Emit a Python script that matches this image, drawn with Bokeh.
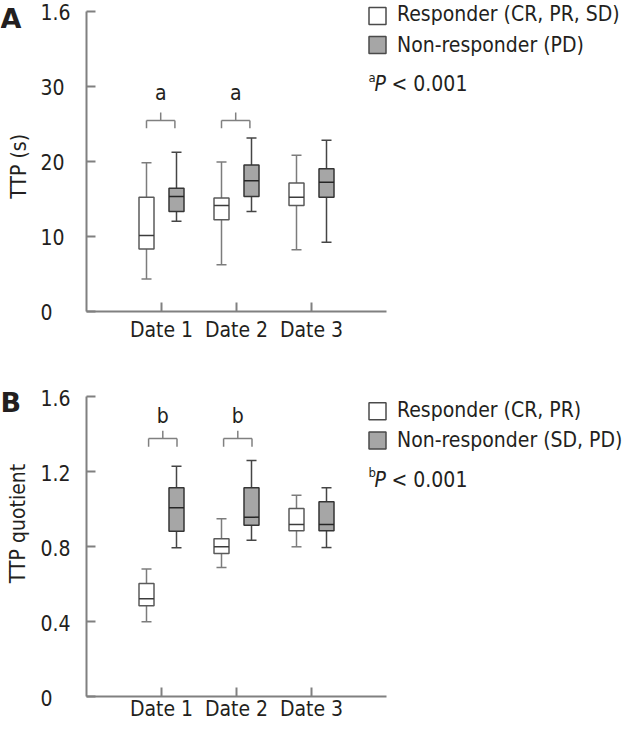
import math
from bokeh.plotting import figure
from bokeh.models import (ColumnDataSource, Label, LabelSet,
                          FixedTicker, Range1d, CustomJSTickFormatter)
from bokeh.layouts import column
from bokeh.core.properties import value
from bokeh.embed import file_html
from bokeh.resources import INLINE

FONT = "DejaVu Sans Condensed, DejaVu Sans"
TXT = "#231f20"

# ---------------- data ----------------
dates = ["Date 1", "Date 2", "Date 3"]
date_pos = [1, 2, 3]

# Panel A: TTP (s)
a_resp_low = [4.3, 6.2, 8.2]
a_resp_q1 = [8.3, 12.2, 14.1]
a_resp_med = [10.1, 14.1, 15.2]
a_resp_q3 = [15.2, 15.1, 17.1]
a_resp_high = [19.8, 19.9, 20.8]
a_non_low = [12.0, 13.3, 9.2]
a_non_q1 = [13.3, 15.3, 15.2]
a_non_med = [15.3, 17.4, 17.2]
a_non_q3 = [16.4, 19.5, 19.0]
a_non_high = [21.2, 23.1, 22.8]
a_yticks = [0, 10, 20, 30, 40]
a_ytick_labels = ["0", "10", "20", "30", "1.6"]
a_sig_pos = [1, 2]
a_sig_text = ["a", "a"]
a_legend = ["Responder (CR, PR, SD)", "Non-responder (PD)"]

# Panel B: TTP quotient
b_resp_low = [0.40, 0.69, 0.80]
b_resp_q1 = [0.485, 0.764, 0.885]
b_resp_med = [0.523, 0.800, 0.919]
b_resp_q3 = [0.604, 0.843, 1.004]
b_resp_high = [0.681, 0.949, 1.075]
b_non_low = [0.795, 0.835, 0.796]
b_non_q1 = [0.883, 0.915, 0.885]
b_non_med = [1.008, 0.958, 0.919]
b_non_q3 = [1.115, 1.115, 1.040]
b_non_high = [1.230, 1.260, 1.115]
b_yticks = [0, 0.4, 0.8, 1.2, 1.6]
b_ytick_labels = ["0", "0.4", "0.8", "1.2", "1.6"]
b_sig_pos = [1, 2]
b_sig_text = ["b", "b"]
b_legend = ["Responder (CR, PR)", "Non-responder (SD, PD)"]

# ---------------- geometry (canvas pixels) ----------------
W = 622
AX_X = 86.0
PX_PER_CAT = 75.0
OFF = 0.2
BOXW = 0.2
CAP_PX = 10.0


def X(px):
    return (px - AX_X) / PX_PER_CAT


def mid(base, fs):
    # vertical centre of a text line whose baseline sits at pixel row `base`
    return base - 0.346 * fs


def build(letter, ylabel, ymax, yticks, ytick_labels, resp, non, sig_pos, sig_text,
          leg_labels, g):
    H = g["h"]
    y0 = g["y0"]
    pxu = g["pxu"]

    def Y(py):
        return (y0 - py) / pxu

    p = figure(width=W, height=H, x_range=Range1d(X(0), X(W)), y_range=Range1d(Y(H), Y(0)),
               output_backend="svg", toolbar_location=None,
               min_border_left=0, min_border_right=0, min_border_top=0, min_border_bottom=0)
    p.outline_line_color = None
    p.grid.visible = False
    p.background_fill_color = "white"
    p.border_fill_color = "white"

    blank = CustomJSTickFormatter(code="return ''")
    for ax, ticks, bnds in ((p.xaxis[0], date_pos, (0, 4)), (p.yaxis[0], yticks, (0, ymax))):
        ax.fixed_location = 0
        ax.bounds = bnds
        ax.ticker = FixedTicker(ticks=ticks)
        ax.formatter = blank
        ax.major_tick_in = 9
        ax.major_tick_out = 0
        ax.minor_tick_line_color = None
        ax.axis_line_color = "#808080"
        ax.axis_line_width = 2
        ax.major_tick_line_color = "#808080"
        ax.major_tick_line_width = 2
        ax.major_label_standoff = 0

    capw = CAP_PX / PX_PER_CAT
    resp_style = ("white", "#5a5a5a", "#7c7c7c", "#3c3c3c")
    non_style = ("#a6a6a6", "#353535", "#454545", "#262626")
    groups = [
        (resp, [d - OFF for d in date_pos], resp_style),
        (non, [d + OFF for d in date_pos], non_style),
    ]
    for (low, q1, med, q3, high), xs, (fill, edge, wcol, mcol) in groups:
        p.segment(x0=xs, y0=q3, x1=xs, y1=high, line_color=wcol, line_width=1.5)
        p.segment(x0=xs, y0=q1, x1=xs, y1=low, line_color=wcol, line_width=1.5)
        p.segment(x0=[x - capw / 2 for x in xs], y0=high, x1=[x + capw / 2 for x in xs], y1=high,
                  line_color=wcol, line_width=1.5)
        p.segment(x0=[x - capw / 2 for x in xs], y0=low, x1=[x + capw / 2 for x in xs], y1=low,
                  line_color=wcol, line_width=1.5)
        p.vbar(x=xs, width=BOXW, bottom=q1, top=q3, fill_color=fill,
               line_color=edge, line_width=1.5)
        p.segment(x0=[x - BOXW / 2 for x in xs], y0=med, x1=[x + BOXW / 2 for x in xs], y1=med,
                  line_color=mcol, line_width=1.5)

    # significance brackets
    dx = g["br_dx"] / PX_PER_CAT
    half = 14.2 / PX_PER_CAT
    y_bar, y_leg, y_tip = Y(g["br_bar"]), Y(g["br_leg"]), Y(g["br_tip"])
    y_txt = Y(mid(g["br_txt"], 21))
    cx = [c + dx for c in sig_pos]
    bc = "#808080"
    p.segment(x0=[c - half for c in cx], y0=y_bar, x1=[c + half for c in cx], y1=y_bar,
              line_color=bc, line_width=1.5)
    p.segment(x0=[c - half for c in cx], y0=y_bar, x1=[c - half for c in cx], y1=y_leg,
              line_color=bc, line_width=1.5)
    p.segment(x0=[c + half for c in cx], y0=y_bar, x1=[c + half for c in cx], y1=y_leg,
              line_color=bc, line_width=1.5)
    p.segment(x0=cx, y0=y_bar, x1=cx, y1=y_tip, line_color=bc, line_width=1.5)
    p.text(x=cx, y=[y_txt] * len(cx), text=sig_text, text_font=value(FONT),
           text_font_size="21px", text_align="center", text_baseline="middle",
           text_color=TXT)

    # tick labels
    ysrc = ColumnDataSource(dict(x=[X(40)] * len(yticks), y=yticks, t=ytick_labels))
    p.add_layout(LabelSet(x="x", y="y", text="t", source=ysrc, y_offset=-9,
                          text_align="left", text_baseline="alphabetic",
                          text_font=value(FONT), text_font_size="21px", text_color=TXT))
    xsrc = ColumnDataSource(dict(x=date_pos, y=[0] * len(date_pos), t=dates))
    p.add_layout(LabelSet(x="x", y="y", text="t", source=xsrc, y_offset=-g["xlab"],
                          text_align="center", text_baseline="alphabetic",
                          text_font=value(FONT), text_font_size="21px", text_color=TXT))

    # axis title
    p.add_layout(Label(x=X(g["yl_x"]), y=Y(g["yl_y"]), text=ylabel, angle=math.pi / 2,
                       text_align="center", text_baseline="middle", text_font=FONT,
                       text_font_size="21px", text_color=TXT))
    # panel letter
    p.add_layout(Label(x=X(0), y=Y(mid(g["letter_base"], 27)), text=letter,
                       text_align="left", text_baseline="middle", text_font="DejaVu Sans",
                       text_font_style="bold", text_font_size="27px", text_color=TXT))

    # legend (swatches + labels)
    for (fill, edge, _w, _m), cy, base, lab in ((resp_style, g["sw1"], g["lb1"], leg_labels[0]),
                                                (non_style, g["sw2"], g["lb2"], leg_labels[1])):
        p.rect(x=[X(377)], y=[Y(cy)], width=17, height=17, width_units="screen",
               height_units="screen", fill_color=fill, line_color="#4a4a4a", line_width=1.5)
        p.add_layout(Label(x=X(396.5), y=Y(mid(base, 21)), text=lab, text_align="left",
                           text_baseline="middle", text_font=FONT, text_font_size="21px",
                           text_color=TXT))

    # p-value note
    base3 = g["lb3"]
    p.add_layout(Label(x=X(368), y=Y(mid(base3 - 9.5, 13)), text=sig_text[0], text_align="left",
                       text_baseline="middle", text_font=FONT, text_font_size="13px",
                       text_color=TXT))
    p.add_layout(Label(x=X(374), y=Y(mid(base3, 21)), text="P", text_align="left",
                       text_baseline="middle", text_font=FONT, text_font_style="italic",
                       text_font_size="21px", text_color=TXT))
    p.add_layout(Label(x=X(391), y=Y(mid(base3, 21)), text="< 0.001", text_align="left",
                       text_baseline="middle", text_font=FONT, text_font_size="21px",
                       text_color=TXT))
    return p


geoA = dict(h=357, y0=310.7, pxu=7.5, br_dx=-0.8, br_bar=120.0, br_leg=127.7, br_tip=112.0,
            br_txt=100.0, xlab=26, yl_x=18.3, yl_y=165.8, letter_base=27.0,
            sw1=15.5, sw2=44.4, lb1=20.5, lb2=51.7, lb3=90.5)
S = 2.0  # panel B lifted a little so the date labels fit the canvas
geoB = dict(h=365, y0=341.3 - S, pxu=187.5, br_dx=1.3, br_bar=83.0 - S, br_leg=91.3 - S,
            br_tip=75.3 - S, br_txt=68.0 - S, xlab=19, yl_x=17.5, yl_y=168.0 - S,
            letter_base=56.0 - S, sw1=55.7 - S, sw2=85.0 - S, lb1=61.3 - S, lb2=91.3 - S,
            lb3=131.3 - S)

pA = build("A", "TTP (s)", 40, a_yticks, a_ytick_labels,
           (a_resp_low, a_resp_q1, a_resp_med, a_resp_q3, a_resp_high),
           (a_non_low, a_non_q1, a_non_med, a_non_q3, a_non_high),
           a_sig_pos, a_sig_text, a_legend, geoA)

pB = build("B", "TTP quotient", 1.6, b_yticks, b_ytick_labels,
           (b_resp_low, b_resp_q1, b_resp_med, b_resp_q3, b_resp_high),
           (b_non_low, b_non_q1, b_non_med, b_non_q3, b_non_high),
           b_sig_pos, b_sig_text, b_legend, geoB)

layout = column(pA, pB, spacing=0)
open("out.html", "w").write(file_html(layout, INLINE))
